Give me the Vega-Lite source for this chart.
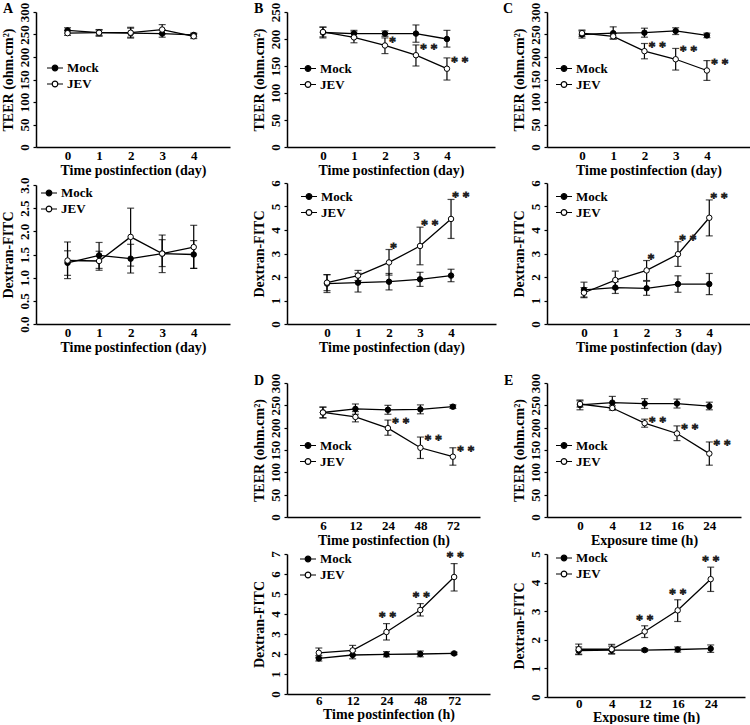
{
"$schema": "https://vega.github.io/schema/vega-lite/v6.json",
"padding": {"left": 1, "top": 2, "right": 0, "bottom": 0},
"columns": 3,
"spacing": {"row": 36, "column": 51},
"bounds": "flush",
"align": "each",
"resolve": {"scale": {"fill": "independent"}, "legend": {"fill": "independent"}},
"config": {
 "view": {"stroke": null},
 "font": "Liberation Serif",
 "axis": {"domainColor": "black", "domainWidth": 1.5, "tickColor": "black", "tickWidth": 1.2, "labelFont": "Liberation Serif", "labelFontWeight": "bold", "labelFontSize": 13, "labelColor": "black", "titleFont": "Liberation Serif", "titleFontWeight": "bold", "titleFontSize": 14, "titleColor": "black", "grid": false, "labelFlush": false, "labelOverlap": false},
 "axisX": {"ticks": false, "tickSize": 0, "labelPadding": 2, "titlePadding": 1, "labelAngle": 0},
 "axisY": {"tickSize": 3, "labelPadding": 2, "labelAngle": -90, "labelAlign": "center", "labelBaseline": "bottom", "titlePadding": 3},
 "legend": {"labelFont": "Liberation Serif", "labelFontSize": 13, "labelFontWeight": "bold", "labelColor": "black", "symbolSize": 256, "symbolStrokeColor": "black", "symbolStrokeWidth": 1.2, "rowPadding": -2, "labelOffset": 3, "padding": 0},
 "title": {"font": "Liberation Serif", "fontSize": 14, "fontWeight": "bold", "color": "black", "anchor": "start", "frame": "group", "offset": 0, "baseline": "alphabetic"},
 "text": {"font": "Liberation Serif", "fontSize": 14, "fontWeight": "normal", "fill": "#222", "fillOpacity": 0, "stroke": "#222", "strokeWidth": 0.9, "baseline": "alphabetic"}
},
"datasets": {
 "A1": [
  {"series": "Mock", "x": 0, "mean": 259, "lo": 253, "hi": 265, "sig": ""},
  {"series": "Mock", "x": 1, "mean": 254, "lo": 246, "hi": 261, "sig": ""},
  {"series": "Mock", "x": 2, "mean": 253, "lo": 242, "hi": 264, "sig": ""},
  {"series": "Mock", "x": 3, "mean": 252, "lo": 244, "hi": 260, "sig": ""},
  {"series": "Mock", "x": 4, "mean": 249, "lo": 245, "hi": 253, "sig": ""},
  {"series": "JEV", "x": 0, "mean": 253, "lo": 248, "hi": 259, "sig": ""},
  {"series": "JEV", "x": 1, "mean": 254, "lo": 248, "hi": 260, "sig": ""},
  {"series": "JEV", "x": 2, "mean": 254, "lo": 244, "hi": 266, "sig": ""},
  {"series": "JEV", "x": 3, "mean": 261, "lo": 251, "hi": 272, "sig": ""},
  {"series": "JEV", "x": 4, "mean": 246, "lo": 241, "hi": 251, "sig": ""}
 ],
 "A2": [
  {"series": "Mock", "x": 0, "mean": 1.32, "lo": 1.05, "hi": 1.58, "sig": ""},
  {"series": "Mock", "x": 1, "mean": 1.48, "lo": 1.2, "hi": 1.76, "sig": ""},
  {"series": "Mock", "x": 2, "mean": 1.41, "lo": 1.25, "hi": 1.72, "sig": ""},
  {"series": "Mock", "x": 3, "mean": 1.52, "lo": 1.24, "hi": 1.82, "sig": ""},
  {"series": "Mock", "x": 4, "mean": 1.5, "lo": 1.2, "hi": 1.8, "sig": ""},
  {"series": "JEV", "x": 0, "mean": 1.37, "lo": 0.98, "hi": 1.77, "sig": ""},
  {"series": "JEV", "x": 1, "mean": 1.36, "lo": 1.16, "hi": 1.57, "sig": ""},
  {"series": "JEV", "x": 2, "mean": 1.88, "lo": 1.1, "hi": 2.5, "sig": ""},
  {"series": "JEV", "x": 3, "mean": 1.52, "lo": 1.11, "hi": 1.92, "sig": ""},
  {"series": "JEV", "x": 4, "mean": 1.66, "lo": 1.2, "hi": 2.13, "sig": ""}
 ],
 "B1": [
  {"series": "Mock", "x": 0, "mean": 212, "lo": 202, "hi": 222, "sig": ""},
  {"series": "Mock", "x": 1, "mean": 210, "lo": 204, "hi": 216, "sig": ""},
  {"series": "Mock", "x": 2, "mean": 210, "lo": 205, "hi": 215, "sig": ""},
  {"series": "Mock", "x": 3, "mean": 210, "lo": 194, "hi": 226, "sig": ""},
  {"series": "Mock", "x": 4, "mean": 200, "lo": 185, "hi": 216, "sig": ""},
  {"series": "JEV", "x": 0, "mean": 213, "lo": 204, "hi": 222, "sig": ""},
  {"series": "JEV", "x": 1, "mean": 203, "lo": 193, "hi": 213, "sig": ""},
  {"series": "JEV", "x": 2, "mean": 188, "lo": 173, "hi": 202, "sig": "*"},
  {"series": "JEV", "x": 3, "mean": 170, "lo": 150, "hi": 189, "sig": "* *"},
  {"series": "JEV", "x": 4, "mean": 145, "lo": 124, "hi": 165, "sig": "* *"}
 ],
 "B2": [
  {"series": "Mock", "x": 0, "mean": 1.72, "lo": 1.34, "hi": 2.1, "sig": ""},
  {"series": "Mock", "x": 1, "mean": 1.76, "lo": 1.36, "hi": 2.16, "sig": ""},
  {"series": "Mock", "x": 2, "mean": 1.8, "lo": 1.45, "hi": 2.15, "sig": ""},
  {"series": "Mock", "x": 3, "mean": 1.9, "lo": 1.6, "hi": 2.2, "sig": ""},
  {"series": "Mock", "x": 4, "mean": 2.06, "lo": 1.8, "hi": 2.33, "sig": ""},
  {"series": "JEV", "x": 0, "mean": 1.76, "lo": 1.42, "hi": 2.1, "sig": ""},
  {"series": "JEV", "x": 1, "mean": 2.06, "lo": 1.85, "hi": 2.28, "sig": ""},
  {"series": "JEV", "x": 2, "mean": 2.62, "lo": 2.08, "hi": 3.17, "sig": "*"},
  {"series": "JEV", "x": 3, "mean": 3.32, "lo": 2.52, "hi": 4.12, "sig": "* *"},
  {"series": "JEV", "x": 4, "mean": 4.47, "lo": 3.64, "hi": 5.3, "sig": "* *"}
 ],
 "C1": [
  {"series": "Mock", "x": 0, "mean": 250, "lo": 242, "hi": 258, "sig": ""},
  {"series": "Mock", "x": 1, "mean": 253, "lo": 240, "hi": 267, "sig": ""},
  {"series": "Mock", "x": 2, "mean": 254, "lo": 244, "hi": 264, "sig": ""},
  {"series": "Mock", "x": 3, "mean": 258, "lo": 250, "hi": 265, "sig": ""},
  {"series": "Mock", "x": 4, "mean": 248, "lo": 243, "hi": 253, "sig": ""},
  {"series": "JEV", "x": 0, "mean": 253, "lo": 246, "hi": 260, "sig": ""},
  {"series": "JEV", "x": 1, "mean": 246, "lo": 240, "hi": 252, "sig": ""},
  {"series": "JEV", "x": 2, "mean": 213, "lo": 196, "hi": 230, "sig": "* *"},
  {"series": "JEV", "x": 3, "mean": 195, "lo": 171, "hi": 219, "sig": "* *"},
  {"series": "JEV", "x": 4, "mean": 170, "lo": 148, "hi": 192, "sig": "* *"}
 ],
 "C2": [
  {"series": "Mock", "x": 0, "mean": 1.45, "lo": 1.15, "hi": 1.78, "sig": ""},
  {"series": "Mock", "x": 1, "mean": 1.55, "lo": 1.3, "hi": 1.8, "sig": ""},
  {"series": "Mock", "x": 2, "mean": 1.52, "lo": 1.22, "hi": 1.82, "sig": ""},
  {"series": "Mock", "x": 3, "mean": 1.7, "lo": 1.35, "hi": 2.05, "sig": ""},
  {"series": "Mock", "x": 4, "mean": 1.7, "lo": 1.25, "hi": 2.15, "sig": ""},
  {"series": "JEV", "x": 0, "mean": 1.33, "lo": 1.12, "hi": 1.55, "sig": ""},
  {"series": "JEV", "x": 1, "mean": 1.87, "lo": 1.5, "hi": 2.25, "sig": ""},
  {"series": "JEV", "x": 2, "mean": 2.28, "lo": 1.85, "hi": 2.7, "sig": "*"},
  {"series": "JEV", "x": 3, "mean": 2.97, "lo": 2.45, "hi": 3.5, "sig": "* *"},
  {"series": "JEV", "x": 4, "mean": 4.52, "lo": 3.75, "hi": 5.28, "sig": "* *"}
 ],
 "D1": [
  {"series": "Mock", "x": 6, "mean": 234, "lo": 222, "hi": 246, "sig": ""},
  {"series": "Mock", "x": 12, "mean": 242, "lo": 230, "hi": 253, "sig": ""},
  {"series": "Mock", "x": 24, "mean": 240, "lo": 230, "hi": 250, "sig": ""},
  {"series": "Mock", "x": 48, "mean": 241, "lo": 231, "hi": 251, "sig": ""},
  {"series": "Mock", "x": 72, "mean": 247, "lo": 243, "hi": 251, "sig": ""},
  {"series": "JEV", "x": 6, "mean": 234, "lo": 222, "hi": 246, "sig": ""},
  {"series": "JEV", "x": 12, "mean": 224, "lo": 213, "hi": 236, "sig": ""},
  {"series": "JEV", "x": 24, "mean": 199, "lo": 183, "hi": 217, "sig": "* *"},
  {"series": "JEV", "x": 48, "mean": 155, "lo": 131, "hi": 179, "sig": "* *"},
  {"series": "JEV", "x": 72, "mean": 135, "lo": 116, "hi": 155, "sig": "* *"}
 ],
 "D2": [
  {"series": "Mock", "x": 6, "mean": 1.78, "lo": 1.65, "hi": 1.92, "sig": ""},
  {"series": "Mock", "x": 12, "mean": 1.95, "lo": 1.76, "hi": 2.14, "sig": ""},
  {"series": "Mock", "x": 24, "mean": 1.98, "lo": 1.86, "hi": 2.12, "sig": ""},
  {"series": "Mock", "x": 48, "mean": 2.0, "lo": 1.86, "hi": 2.15, "sig": ""},
  {"series": "Mock", "x": 72, "mean": 2.03, "lo": 1.97, "hi": 2.09, "sig": ""},
  {"series": "JEV", "x": 6, "mean": 2.06, "lo": 1.83, "hi": 2.3, "sig": ""},
  {"series": "JEV", "x": 12, "mean": 2.18, "lo": 1.95, "hi": 2.43, "sig": ""},
  {"series": "JEV", "x": 24, "mean": 3.1, "lo": 2.7, "hi": 3.52, "sig": "* *"},
  {"series": "JEV", "x": 48, "mean": 4.2, "lo": 3.9, "hi": 4.52, "sig": "* *"},
  {"series": "JEV", "x": 72, "mean": 5.85, "lo": 5.15, "hi": 6.52, "sig": "* *"}
 ],
 "E1": [
  {"series": "Mock", "x": 0, "mean": 251, "lo": 240, "hi": 262, "sig": ""},
  {"series": "Mock", "x": 4, "mean": 256, "lo": 243, "hi": 270, "sig": ""},
  {"series": "Mock", "x": 12, "mean": 254, "lo": 243, "hi": 265, "sig": ""},
  {"series": "Mock", "x": 16, "mean": 254, "lo": 244, "hi": 264, "sig": ""},
  {"series": "Mock", "x": 24, "mean": 248, "lo": 240, "hi": 257, "sig": ""},
  {"series": "JEV", "x": 0, "mean": 253, "lo": 246, "hi": 260, "sig": ""},
  {"series": "JEV", "x": 4, "mean": 244, "lo": 239, "hi": 249, "sig": ""},
  {"series": "JEV", "x": 12, "mean": 210, "lo": 201, "hi": 219, "sig": "* *"},
  {"series": "JEV", "x": 16, "mean": 187, "lo": 171, "hi": 204, "sig": "* *"},
  {"series": "JEV", "x": 24, "mean": 142, "lo": 116, "hi": 168, "sig": "* *"}
 ],
 "E2": [
  {"series": "Mock", "x": 0, "mean": 1.62, "lo": 1.48, "hi": 1.75, "sig": ""},
  {"series": "Mock", "x": 4, "mean": 1.64, "lo": 1.5, "hi": 1.78, "sig": ""},
  {"series": "Mock", "x": 12, "mean": 1.64, "lo": 1.59, "hi": 1.69, "sig": ""},
  {"series": "Mock", "x": 16, "mean": 1.66, "lo": 1.57, "hi": 1.75, "sig": ""},
  {"series": "Mock", "x": 24, "mean": 1.69, "lo": 1.56, "hi": 1.82, "sig": ""},
  {"series": "JEV", "x": 0, "mean": 1.67, "lo": 1.5, "hi": 1.85, "sig": ""},
  {"series": "JEV", "x": 4, "mean": 1.67, "lo": 1.52, "hi": 1.84, "sig": ""},
  {"series": "JEV", "x": 12, "mean": 2.29, "lo": 2.08, "hi": 2.49, "sig": "* *"},
  {"series": "JEV", "x": 16, "mean": 3.03, "lo": 2.64, "hi": 3.4, "sig": "* *"},
  {"series": "JEV", "x": 24, "mean": 4.12, "lo": 3.69, "hi": 4.54, "sig": "* *"}
 ]
},
"concat": [
 {
  "width": 194, "height": 135,
  "title": {"text": "A", "dx": -33, "dy": 18},
  "data": {"name": "A1"},
  "encoding": {
   "x": {"field": "x", "type": "quantitative", "scale": {"domain": [-1.0, 5.15], "nice": false, "zero": false}, "axis": {"values": [0, 1, 2, 3, 4], "format": "d", "title": "Time postinfection (day)"}},
   "y": {"field": "mean", "type": "quantitative", "scale": {"domain": [0, 300], "nice": false}, "axis": {"title": "TEER (ohm.cm²)", "values": [0, 50, 100, 150, 200, 250, 300]}}
  },
  "layer": [
   {"mark": {"type": "errorbar", "color": "black", "thickness": 1.2, "ticks": {"size": 7, "thickness": 1.2}},
    "encoding": {"y": {"field": "lo", "type": "quantitative", "scale": {"domain": [0, 300], "nice": false}, "axis": {"title": "TEER (ohm.cm²)", "values": [0, 50, 100, 150, 200, 250, 300]}}, "y2": {"field": "hi"}}},
   {"mark": {"type": "line", "color": "black", "strokeWidth": 1.3}, "encoding": {"detail": {"field": "series"}}},
   {"mark": {"type": "point", "filled": true, "size": 30, "stroke": "black", "strokeWidth": 1, "opacity": 1},
    "encoding": {"fill": {"field": "series", "type": "nominal", "scale": {"domain": ["Mock", "JEV"], "range": ["black", "white"]}, "legend": {"title": null, "orient": "none", "legendX": 10, "legendY": 47, "symbolType": "M-1,0L-0.35,0M0.35,0L1,0M-0.35,0A0.35,0.35 0 1,1 0.35,0A0.35,0.35 0 1,1 -0.35,0Z", "symbolStrokeColor": "black"}}}}
  ]
 },
 {
  "width": 208, "height": 135,
  "title": {"text": "B", "dx": -33, "dy": 18},
  "data": {"name": "B1"},
  "encoding": {
   "x": {"field": "x", "type": "quantitative", "scale": {"domain": [-1.16, 5.55], "nice": false, "zero": false}, "axis": {"values": [0, 1, 2, 3, 4], "format": "d", "title": "Time postinfection (day)"}},
   "y": {"field": "mean", "type": "quantitative", "scale": {"domain": [0, 250], "nice": false}, "axis": {"title": "TEER (ohm.cm²)", "values": [0, 50, 100, 150, 200, 250]}}
  },
  "layer": [
   {"mark": {"type": "errorbar", "color": "black", "thickness": 1.2, "ticks": {"size": 7, "thickness": 1.2}},
    "encoding": {"y": {"field": "lo", "type": "quantitative", "scale": {"domain": [0, 250], "nice": false}, "axis": {"title": "TEER (ohm.cm²)", "values": [0, 50, 100, 150, 200, 250]}}, "y2": {"field": "hi"}}},
   {"mark": {"type": "line", "color": "black", "strokeWidth": 1.3}, "encoding": {"detail": {"field": "series"}}},
   {"mark": {"type": "point", "filled": true, "size": 30, "stroke": "black", "strokeWidth": 1, "opacity": 1},
    "encoding": {"fill": {"field": "series", "type": "nominal", "scale": {"domain": ["Mock", "JEV"], "range": ["black", "white"]}, "legend": {"title": null, "orient": "none", "legendX": 12, "legendY": 47.5, "symbolType": "M-1,0L-0.35,0M0.35,0L1,0M-0.35,0A0.35,0.35 0 1,1 0.35,0A0.35,0.35 0 1,1 -0.35,0Z", "symbolStrokeColor": "black"}}}},
   {"mark": {"type": "text", "align": "left", "dx": 4, "dy": 9},
    "encoding": {"y": {"field": "hi", "type": "quantitative", "scale": {"domain": [0, 250], "nice": false}}, "text": {"field": "sig"}}}
  ]
 },
 {
  "width": 203, "height": 135,
  "title": {"text": "C", "dx": -44, "dy": 18},
  "data": {"name": "C1"},
  "encoding": {
   "x": {"field": "x", "type": "quantitative", "scale": {"domain": [-1.12, 5.38], "nice": false, "zero": false}, "axis": {"values": [0, 1, 2, 3, 4], "format": "d", "title": "Time postinfection (day)"}},
   "y": {"field": "mean", "type": "quantitative", "scale": {"domain": [0, 300], "nice": false}, "axis": {"title": "TEER (ohm.cm²)", "values": [0, 50, 100, 150, 200, 250, 300]}}
  },
  "layer": [
   {"mark": {"type": "errorbar", "color": "black", "thickness": 1.2, "ticks": {"size": 7, "thickness": 1.2}},
    "encoding": {"y": {"field": "lo", "type": "quantitative", "scale": {"domain": [0, 300], "nice": false}, "axis": {"title": "TEER (ohm.cm²)", "values": [0, 50, 100, 150, 200, 250, 300]}}, "y2": {"field": "hi"}}},
   {"mark": {"type": "line", "color": "black", "strokeWidth": 1.3}, "encoding": {"detail": {"field": "series"}}},
   {"mark": {"type": "point", "filled": true, "size": 30, "stroke": "black", "strokeWidth": 1, "opacity": 1},
    "encoding": {"fill": {"field": "series", "type": "nominal", "scale": {"domain": ["Mock", "JEV"], "range": ["black", "white"]}, "legend": {"title": null, "orient": "none", "legendX": 8, "legendY": 47.5, "symbolType": "M-1,0L-0.35,0M0.35,0L1,0M-0.35,0A0.35,0.35 0 1,1 0.35,0A0.35,0.35 0 1,1 -0.35,0Z", "symbolStrokeColor": "black"}}}},
   {"mark": {"type": "text", "align": "left", "dx": 4, "dy": 8},
    "encoding": {"y": {"field": "hi", "type": "quantitative", "scale": {"domain": [0, 300], "nice": false}}, "text": {"field": "sig"}}}
  ]
 },
 {
  "width": 194, "height": 141,
  "data": {"name": "A2"},
  "encoding": {
   "x": {"field": "x", "type": "quantitative", "scale": {"domain": [-1.0, 5.15], "nice": false, "zero": false}, "axis": {"values": [0, 1, 2, 3, 4], "format": "d", "title": "Time postinfection (day)"}},
   "y": {"field": "mean", "type": "quantitative", "scale": {"domain": [0, 3], "nice": false, "range": [141, 2]}, "axis": {"title": "Dextran-FITC", "values": [0, 0.5, 1, 1.5, 2, 2.5, 3], "format": ".1f"}}
  },
  "layer": [
   {"mark": {"type": "errorbar", "color": "black", "thickness": 1.2, "ticks": {"size": 7, "thickness": 1.2}},
    "encoding": {"y": {"field": "lo", "type": "quantitative", "scale": {"domain": [0, 3], "nice": false, "range": [141, 2]}, "axis": {"title": "Dextran-FITC", "values": [0, 0.5, 1, 1.5, 2, 2.5, 3], "format": ".1f"}}, "y2": {"field": "hi"}}},
   {"mark": {"type": "line", "color": "black", "strokeWidth": 1.3}, "encoding": {"detail": {"field": "series"}}},
   {"mark": {"type": "point", "filled": true, "size": 30, "stroke": "black", "strokeWidth": 1, "opacity": 1},
    "encoding": {"fill": {"field": "series", "type": "nominal", "scale": {"domain": ["Mock", "JEV"], "range": ["black", "white"]}, "legend": {"title": null, "orient": "none", "legendX": 4, "legendY": 1, "symbolType": "M-1,0L-0.35,0M0.35,0L1,0M-0.35,0A0.35,0.35 0 1,1 0.35,0A0.35,0.35 0 1,1 -0.35,0Z", "symbolStrokeColor": "black"}}}}
  ]
 },
 {
  "width": 209, "height": 141,
  "data": {"name": "B2"},
  "encoding": {
   "x": {"field": "x", "type": "quantitative", "scale": {"domain": [-1.29, 5.45], "nice": false, "zero": false}, "axis": {"values": [0, 1, 2, 3, 4], "format": "d", "title": "Time postinfection (day)"}},
   "y": {"field": "mean", "type": "quantitative", "scale": {"domain": [0, 6], "nice": false}, "axis": {"title": "Dextran-FITC", "values": [0, 1, 2, 3, 4, 5, 6], "format": "d"}}
  },
  "layer": [
   {"mark": {"type": "errorbar", "color": "black", "thickness": 1.2, "ticks": {"size": 7, "thickness": 1.2}},
    "encoding": {"y": {"field": "lo", "type": "quantitative", "scale": {"domain": [0, 6], "nice": false}, "axis": {"title": "Dextran-FITC", "values": [0, 1, 2, 3, 4, 5, 6], "format": "d"}}, "y2": {"field": "hi"}}},
   {"mark": {"type": "line", "color": "black", "strokeWidth": 1.3}, "encoding": {"detail": {"field": "series"}}},
   {"mark": {"type": "point", "filled": true, "size": 30, "stroke": "black", "strokeWidth": 1, "opacity": 1},
    "encoding": {"fill": {"field": "series", "type": "nominal", "scale": {"domain": ["Mock", "JEV"], "range": ["black", "white"]}, "legend": {"title": null, "orient": "none", "legendX": 13, "legendY": 4.5, "symbolType": "M-1,0L-0.35,0M0.35,0L1,0M-0.35,0A0.35,0.35 0 1,1 0.35,0A0.35,0.35 0 1,1 -0.35,0Z", "symbolStrokeColor": "black"}}}},
   {"mark": {"type": "text", "align": "left", "dx": 1, "dy": 3},
    "encoding": {"y": {"field": "hi", "type": "quantitative", "scale": {"domain": [0, 6], "nice": false}}, "text": {"field": "sig"}}}
  ]
 },
 {
  "width": 203, "height": 141,
  "data": {"name": "C2"},
  "encoding": {
   "x": {"field": "x", "type": "quantitative", "scale": {"domain": [-1.18, 5.3], "nice": false, "zero": false}, "axis": {"values": [0, 1, 2, 3, 4], "format": "d", "title": "Time postinfection (day)"}},
   "y": {"field": "mean", "type": "quantitative", "scale": {"domain": [0, 6], "nice": false}, "axis": {"title": "Dextran-FITC", "values": [0, 1, 2, 3, 4, 5, 6], "format": "d"}}
  },
  "layer": [
   {"mark": {"type": "errorbar", "color": "black", "thickness": 1.2, "ticks": {"size": 7, "thickness": 1.2}},
    "encoding": {"y": {"field": "lo", "type": "quantitative", "scale": {"domain": [0, 6], "nice": false}, "axis": {"title": "Dextran-FITC", "values": [0, 1, 2, 3, 4, 5, 6], "format": "d"}}, "y2": {"field": "hi"}}},
   {"mark": {"type": "line", "color": "black", "strokeWidth": 1.3}, "encoding": {"detail": {"field": "series"}}},
   {"mark": {"type": "point", "filled": true, "size": 30, "stroke": "black", "strokeWidth": 1, "opacity": 1},
    "encoding": {"fill": {"field": "series", "type": "nominal", "scale": {"domain": ["Mock", "JEV"], "range": ["black", "white"]}, "legend": {"title": null, "orient": "none", "legendX": 8, "legendY": 4.5, "symbolType": "M-1,0L-0.35,0M0.35,0L1,0M-0.35,0A0.35,0.35 0 1,1 0.35,0A0.35,0.35 0 1,1 -0.35,0Z", "symbolStrokeColor": "black"}}}},
   {"mark": {"type": "text", "align": "left", "dx": 1, "dy": 3},
    "encoding": {"y": {"field": "hi", "type": "quantitative", "scale": {"domain": [0, 6], "nice": false}}, "text": {"field": "sig"}}}
  ]
 },
 {
  "width": 200, "height": 157,
  "data": {"values": [{"v": 0}]},
  "mark": {"type": "point", "opacity": 0},
  "encoding": {}
 },
 {
  "width": 193, "height": 157,
  "title": {"text": "D", "dx": -33, "dy": 32},
  "data": {"name": "D1"},
  "encoding": {
   "x": {"field": "x", "type": "ordinal", "scale": {"type": "point", "padding": 0.97, "align": 0.57}, "axis": {"title": "Time postinfection (h)"}},
   "y": {"field": "mean", "type": "quantitative", "scale": {"domain": [0, 300], "nice": false, "range": [157, 23]}, "axis": {"title": "TEER (ohm.cm²)", "values": [0, 50, 100, 150, 200, 250, 300]}}
  },
  "layer": [
   {"mark": {"type": "errorbar", "color": "black", "thickness": 1.2, "ticks": {"size": 7, "thickness": 1.2}},
    "encoding": {"y": {"field": "lo", "type": "quantitative", "scale": {"domain": [0, 300], "nice": false, "range": [157, 23]}, "axis": {"title": "TEER (ohm.cm²)", "values": [0, 50, 100, 150, 200, 250, 300]}}, "y2": {"field": "hi"}}},
   {"mark": {"type": "line", "color": "black", "strokeWidth": 1.3}, "encoding": {"detail": {"field": "series"}}},
   {"mark": {"type": "point", "filled": true, "size": 30, "stroke": "black", "strokeWidth": 1, "opacity": 1},
    "encoding": {"fill": {"field": "series", "type": "nominal", "scale": {"domain": ["Mock", "JEV"], "range": ["black", "white"]}, "legend": {"title": null, "orient": "none", "legendX": 12, "legendY": 76.5, "symbolType": "M-1,0L-0.35,0M0.35,0L1,0M-0.35,0A0.35,0.35 0 1,1 0.35,0A0.35,0.35 0 1,1 -0.35,0Z", "symbolStrokeColor": "black"}}}},
   {"mark": {"type": "text", "align": "left", "dx": 4, "dy": 8},
    "encoding": {"y": {"field": "hi", "type": "quantitative", "scale": {"domain": [0, 300], "nice": false, "range": [157, 23]}}, "text": {"field": "sig"}}}
  ]
 },
 {
  "width": 194, "height": 157,
  "title": {"text": "E", "dx": -43, "dy": 32},
  "data": {"name": "E1"},
  "encoding": {
   "x": {"field": "x", "type": "ordinal", "scale": {"type": "point", "padding": 1.08, "align": 0.51}, "axis": {"title": "Exposure time (h)"}},
   "y": {"field": "mean", "type": "quantitative", "scale": {"domain": [0, 300], "nice": false, "range": [157, 23]}, "axis": {"title": "TEER (ohm.cm²)", "values": [0, 50, 100, 150, 200, 250, 300]}}
  },
  "layer": [
   {"mark": {"type": "errorbar", "color": "black", "thickness": 1.2, "ticks": {"size": 7, "thickness": 1.2}},
    "encoding": {"y": {"field": "lo", "type": "quantitative", "scale": {"domain": [0, 300], "nice": false, "range": [157, 23]}, "axis": {"title": "TEER (ohm.cm²)", "values": [0, 50, 100, 150, 200, 250, 300]}}, "y2": {"field": "hi"}}},
   {"mark": {"type": "line", "color": "black", "strokeWidth": 1.3}, "encoding": {"detail": {"field": "series"}}},
   {"mark": {"type": "point", "filled": true, "size": 30, "stroke": "black", "strokeWidth": 1, "opacity": 1},
    "encoding": {"fill": {"field": "series", "type": "nominal", "scale": {"domain": ["Mock", "JEV"], "range": ["black", "white"]}, "legend": {"title": null, "orient": "none", "legendX": 8, "legendY": 76.5, "symbolType": "M-1,0L-0.35,0M0.35,0L1,0M-0.35,0A0.35,0.35 0 1,1 0.35,0A0.35,0.35 0 1,1 -0.35,0Z", "symbolStrokeColor": "black"}}}},
   {"mark": {"type": "text", "align": "left", "dx": 4, "dy": 8},
    "encoding": {"y": {"field": "hi", "type": "quantitative", "scale": {"domain": [0, 300], "nice": false, "range": [157, 23]}}, "text": {"field": "sig"}}}
  ]
 },
 {
  "width": 200, "height": 141,
  "data": {"values": [{"v": 0}]},
  "mark": {"type": "point", "opacity": 0},
  "encoding": {}
 },
 {
  "width": 203, "height": 141,
  "data": {"name": "D2"},
  "encoding": {
   "x": {"field": "x", "type": "ordinal", "scale": {"type": "point", "padding": 1.1, "align": 0.47}, "axis": {"title": "Time postinfection (h)", "labelPadding": 0, "titlePadding": 0}},
   "y": {"field": "mean", "type": "quantitative", "scale": {"domain": [0, 7], "nice": false, "range": [141, 1]}, "axis": {"title": "Dextran-FITC", "values": [0, 1, 2, 3, 4, 5, 6, 7], "format": "d"}}
  },
  "layer": [
   {"mark": {"type": "errorbar", "color": "black", "thickness": 1.2, "ticks": {"size": 7, "thickness": 1.2}},
    "encoding": {"y": {"field": "lo", "type": "quantitative", "scale": {"domain": [0, 7], "nice": false, "range": [141, 1]}, "axis": {"title": "Dextran-FITC", "values": [0, 1, 2, 3, 4, 5, 6, 7], "format": "d"}}, "y2": {"field": "hi"}}},
   {"mark": {"type": "line", "color": "black", "strokeWidth": 1.3}, "encoding": {"detail": {"field": "series"}}},
   {"mark": {"type": "point", "filled": true, "size": 30, "stroke": "black", "strokeWidth": 1, "opacity": 1},
    "encoding": {"fill": {"field": "series", "type": "nominal", "scale": {"domain": ["Mock", "JEV"], "range": ["black", "white"]}, "legend": {"title": null, "orient": "none", "legendX": 12, "legendY": -3, "symbolType": "M-1,0L-0.35,0M0.35,0L1,0M-0.35,0A0.35,0.35 0 1,1 0.35,0A0.35,0.35 0 1,1 -0.35,0Z", "symbolStrokeColor": "black"}}}},
   {"mark": {"type": "text", "align": "center", "dx": 1, "dy": -2},
    "encoding": {"y": {"field": "hi", "type": "quantitative", "scale": {"domain": [0, 7], "nice": false, "range": [141, 1]}}, "text": {"field": "sig"}}}
  ]
 },
 {
  "width": 198, "height": 144,
  "data": {"name": "E2"},
  "encoding": {
   "x": {"field": "x", "type": "ordinal", "scale": {"type": "point", "padding": 1.12, "align": 0.48}, "axis": {"title": "Exposure time (h)", "labelPadding": 0, "titlePadding": 0}},
   "y": {"field": "mean", "type": "quantitative", "scale": {"domain": [0, 5], "nice": false, "range": [144, 1]}, "axis": {"title": "Dextran-FITC", "values": [0, 1, 2, 3, 4, 5], "format": "d"}}
  },
  "layer": [
   {"mark": {"type": "errorbar", "color": "black", "thickness": 1.2, "ticks": {"size": 7, "thickness": 1.2}},
    "encoding": {"y": {"field": "lo", "type": "quantitative", "scale": {"domain": [0, 5], "nice": false, "range": [144, 1]}, "axis": {"title": "Dextran-FITC", "values": [0, 1, 2, 3, 4, 5], "format": "d"}}, "y2": {"field": "hi"}}},
   {"mark": {"type": "line", "color": "black", "strokeWidth": 1.3}, "encoding": {"detail": {"field": "series"}}},
   {"mark": {"type": "point", "filled": true, "size": 30, "stroke": "black", "strokeWidth": 1, "opacity": 1},
    "encoding": {"fill": {"field": "series", "type": "nominal", "scale": {"domain": ["Mock", "JEV"], "range": ["black", "white"]}, "legend": {"title": null, "orient": "none", "legendX": 8, "legendY": -4, "symbolType": "M-1,0L-0.35,0M0.35,0L1,0M-0.35,0A0.35,0.35 0 1,1 0.35,0A0.35,0.35 0 1,1 -0.35,0Z", "symbolStrokeColor": "black"}}}},
   {"mark": {"type": "text", "align": "center", "dx": 0, "dy": -1},
    "encoding": {"y": {"field": "hi", "type": "quantitative", "scale": {"domain": [0, 5], "nice": false, "range": [144, 1]}}, "text": {"field": "sig"}}}
  ]
 }
]
}
